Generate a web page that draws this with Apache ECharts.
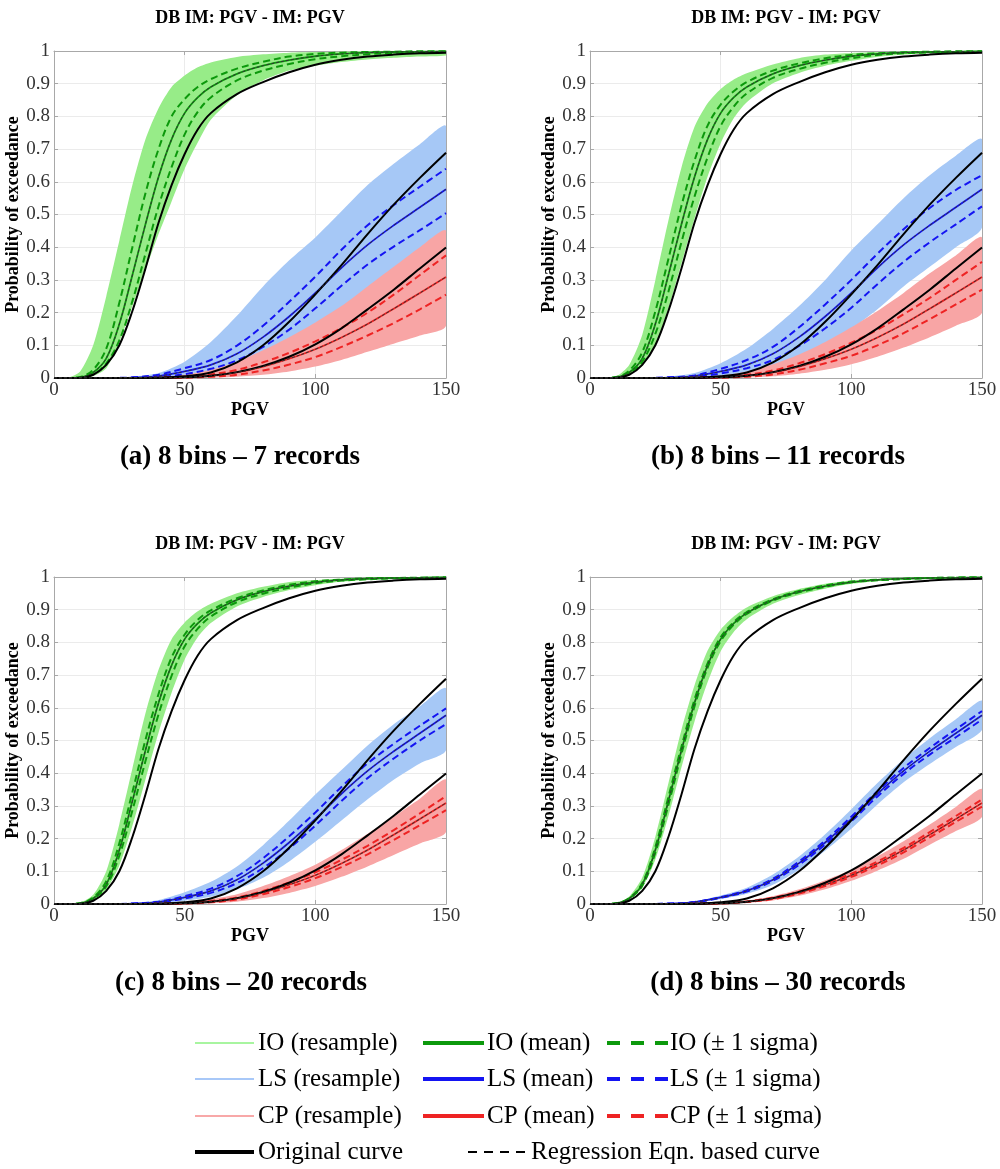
<!DOCTYPE html>
<html>
<head>
<meta charset="utf-8">
<script src="https://cdn.jsdelivr.net/npm/echarts@6/dist/echarts.min.js"></script>
<style>
  html, body { margin: 0; padding: 0; background: #fff; }
  #chart { width: 1000px; height: 1169px; }
</style>
</head>
<body>
<div id="chart"></div>
<script>
// ---- PGV sample points -------------------------------------------------
const PGV_IO = [0, 5, 10, 15, 20, 25, 30, 35, 40, 45, 50, 55, 60, 70, 80, 90, 100, 110, 120, 130, 140, 150];
const PGV_LC = [0, 20, 30, 40, 50, 60, 70, 80, 90, 100, 110, 120, 130, 140, 150];

// ---- original fragility curves (same in every panel) --------------------
const ORIG_IO = [0, 0, 0.001, 0.01, 0.04, 0.1, 0.205, 0.335, 0.475, 0.59, 0.685, 0.76, 0.81, 0.868, 0.905, 0.935, 0.958, 0.973, 0.983, 0.989, 0.993, 0.995];
const ORIG_LS = [0, 0, 0, 0.001, 0.005, 0.017, 0.048, 0.1, 0.172, 0.256, 0.345, 0.44, 0.53, 0.612, 0.689];
const ORIG_CP = [0, 0, 0, 0, 0.002, 0.007, 0.018, 0.037, 0.065, 0.103, 0.152, 0.21, 0.27, 0.335, 0.399];

// ---- resampled mean curves ---------------------------------------------
const MEAN_IO = [0, 0, 0.002, 0.017, 0.06, 0.165, 0.315, 0.47, 0.615, 0.73, 0.81, 0.858, 0.89, 0.93, 0.955, 0.972, 0.984, 0.991, 0.995, 0.997, 0.998, 0.999];
const MEAN_LS = [0, 0, 0.001, 0.006, 0.02, 0.04, 0.074, 0.125, 0.188, 0.26, 0.337, 0.407, 0.467, 0.522, 0.577];
const MEAN_CP = [0, 0, 0, 0.0005, 0.002, 0.007, 0.017, 0.035, 0.059, 0.088, 0.124, 0.165, 0.212, 0.26, 0.309];

// ---- regression-equation curves ------------------------------------------
const REG_IO = [0, 0, 0.002, 0.017, 0.06, 0.165, 0.315, 0.47, 0.615, 0.73, 0.81, 0.858, 0.89, 0.93, 0.955, 0.972, 0.984, 0.991, 0.995, 0.997, 0.998, 0.999];
const REG_LS = [0, 0, 0.001, 0.006, 0.02, 0.04, 0.074, 0.125, 0.188, 0.26, 0.337, 0.407, 0.467, 0.522, 0.577];
const REG_CP = [0, 0, 0, 0.0005, 0.002, 0.007, 0.017, 0.035, 0.059, 0.088, 0.124, 0.165, 0.212, 0.26, 0.309];

// ---- (a) 7 records --------------------------------------------------------
const A_IO_BAND_HI = [0, 0, 0.02, 0.1, 0.25, 0.42, 0.59, 0.73, 0.825, 0.89, 0.925, 0.95, 0.965, 0.982, 0.99, 0.995, 0.997, 0.998, 0.999, 0.999, 1, 1];
const A_IO_BAND_LO = [0, 0, 0, 0.006, 0.03, 0.11, 0.22, 0.33, 0.44, 0.54, 0.64, 0.72, 0.79, 0.865, 0.91, 0.94, 0.955, 0.966, 0.974, 0.979, 0.983, 0.986];
const A_IO_SIG_HI = [0, 0, 0.003, 0.025, 0.09, 0.23, 0.4, 0.565, 0.7, 0.8, 0.853, 0.89, 0.914, 0.946, 0.967, 0.983, 0.991, 0.995, 0.997, 0.998, 0.999, 0.999];
const A_IO_SIG_LO = [0, 0, 0.0015, 0.011, 0.045, 0.115, 0.235, 0.38, 0.525, 0.645, 0.745, 0.814, 0.858, 0.91, 0.94, 0.96, 0.975, 0.984, 0.99, 0.994, 0.996, 0.997];
const A_LS_BAND_HI = [0, 0, 0.004, 0.015, 0.05, 0.11, 0.19, 0.28, 0.36, 0.43, 0.51, 0.59, 0.655, 0.715, 0.77];
const A_LS_BAND_LO = [0, 0, 0, 0.0005, 0.003, 0.008, 0.02, 0.04, 0.07, 0.11, 0.16, 0.22, 0.29, 0.36, 0.43];
const A_LS_SIG_HI = [0, 0, 0.002, 0.01, 0.03, 0.055, 0.099, 0.16, 0.233, 0.31, 0.392, 0.467, 0.529, 0.585, 0.64];
const A_LS_SIG_LO = [0, 0, 0.0005, 0.003, 0.012, 0.028, 0.054, 0.095, 0.148, 0.213, 0.282, 0.347, 0.402, 0.452, 0.504];
const A_CP_BAND_HI = [0, 0, 0, 0.003, 0.01, 0.025, 0.05, 0.085, 0.125, 0.17, 0.22, 0.28, 0.34, 0.4, 0.45];
const A_CP_BAND_LO = [0, 0, 0, 0, 0, 0.001, 0.004, 0.01, 0.02, 0.035, 0.055, 0.08, 0.105, 0.13, 0.16];
const A_CP_SIG_HI = [0, 0, 0, 0.001, 0.004, 0.011, 0.025, 0.048, 0.077, 0.112, 0.153, 0.2, 0.255, 0.315, 0.375];
const A_CP_SIG_LO = [0, 0, 0, 0, 0.001, 0.004, 0.01, 0.023, 0.041, 0.064, 0.095, 0.13, 0.168, 0.21, 0.255];

// ---- (b) 11 records -------------------------------------------------------
const B_IO_BAND_HI = [0, 0, 0.005, 0.04, 0.132, 0.299, 0.482, 0.644, 0.768, 0.84, 0.884, 0.913, 0.932, 0.959, 0.978, 0.989, 0.994, 0.997, 0.998, 0.999, 0.999, 1];
const B_IO_BAND_LO = [0, 0, 0.0013, 0.0104, 0.038, 0.101, 0.212, 0.35, 0.488, 0.616, 0.718, 0.794, 0.843, 0.901, 0.933, 0.955, 0.97, 0.982, 0.989, 0.993, 0.995, 0.997];
const B_IO_SIG_HI = [0, 0, 0.0028, 0.022, 0.079, 0.204, 0.364, 0.527, 0.665, 0.772, 0.836, 0.877, 0.905, 0.94, 0.962, 0.978, 0.988, 0.993, 0.996, 0.998, 0.999, 0.999];
const B_IO_SIG_LO = [0, 0, 0.0017, 0.0138, 0.05, 0.135, 0.264, 0.416, 0.555, 0.675, 0.771, 0.83, 0.87, 0.918, 0.945, 0.964, 0.978, 0.988, 0.993, 0.996, 0.997, 0.998];
const B_LS_BAND_HI = [0, 0, 0.004, 0.015, 0.045, 0.09, 0.15, 0.22, 0.3, 0.39, 0.47, 0.55, 0.62, 0.68, 0.73];
const B_LS_BAND_LO = [0, 0, 0, 0.001, 0.006, 0.015, 0.03, 0.06, 0.1, 0.15, 0.21, 0.28, 0.34, 0.4, 0.46];
const B_LS_SIG_HI = [0, 0, 0.002, 0.008, 0.028, 0.055, 0.095, 0.155, 0.225, 0.3, 0.38, 0.455, 0.52, 0.575, 0.62];
const B_LS_SIG_LO = [0, 0, 0.0005, 0.004, 0.014, 0.03, 0.055, 0.098, 0.152, 0.215, 0.287, 0.355, 0.415, 0.47, 0.525];
const B_CP_BAND_HI = [0, 0, 0, 0.002, 0.007, 0.02, 0.042, 0.072, 0.11, 0.155, 0.205, 0.26, 0.32, 0.375, 0.43];
const B_CP_BAND_LO = [0, 0, 0, 0, 0, 0.001, 0.005, 0.013, 0.025, 0.042, 0.065, 0.093, 0.125, 0.16, 0.2];
const B_CP_SIG_HI = [0, 0, 0, 0.001, 0.003, 0.01, 0.023, 0.045, 0.073, 0.108, 0.148, 0.195, 0.245, 0.3, 0.355];
const B_CP_SIG_LO = [0, 0, 0, 0, 0.001, 0.004, 0.011, 0.025, 0.045, 0.068, 0.1, 0.137, 0.18, 0.225, 0.27];

// ---- (c) 20 records -------------------------------------------------------
const C_IO_BAND_HI = [0, 0, 0.0037, 0.028, 0.1, 0.244, 0.414, 0.583, 0.716, 0.81, 0.861, 0.895, 0.918, 0.95, 0.97, 0.985, 0.991, 0.995, 0.997, 0.998, 0.999, 0.999];
const C_IO_BAND_LO = [0, 0, 0.0014, 0.012, 0.044, 0.118, 0.239, 0.381, 0.524, 0.646, 0.748, 0.816, 0.859, 0.91, 0.939, 0.96, 0.975, 0.986, 0.991, 0.995, 0.997, 0.998];
const C_IO_SIG_HI = [0, 0, 0.0025, 0.02, 0.07, 0.186, 0.342, 0.502, 0.642, 0.754, 0.824, 0.869, 0.898, 0.935, 0.959, 0.976, 0.987, 0.992, 0.996, 0.997, 0.998, 0.999];
const C_IO_SIG_LO = [0, 0, 0.0018, 0.015, 0.054, 0.148, 0.286, 0.437, 0.58, 0.698, 0.788, 0.842, 0.879, 0.923, 0.949, 0.967, 0.981, 0.989, 0.993, 0.996, 0.997, 0.998];
const C_LS_BAND_HI = [0, 0, 0.003, 0.012, 0.036, 0.068, 0.115, 0.18, 0.255, 0.335, 0.41, 0.485, 0.55, 0.605, 0.66];
const C_LS_BAND_LO = [0, 0, 0, 0.002, 0.01, 0.022, 0.045, 0.08, 0.13, 0.19, 0.255, 0.32, 0.38, 0.43, 0.47];
const C_LS_SIG_HI = [0, 0, 0.0015, 0.007, 0.024, 0.047, 0.085, 0.14, 0.207, 0.28, 0.358, 0.43, 0.49, 0.545, 0.598];
const C_LS_SIG_LO = [0, 0, 0.0007, 0.005, 0.017, 0.034, 0.064, 0.11, 0.17, 0.24, 0.315, 0.385, 0.445, 0.5, 0.55];
const C_CP_BAND_HI = [0, 0, 0, 0.001, 0.005, 0.015, 0.03, 0.055, 0.085, 0.12, 0.165, 0.215, 0.267, 0.322, 0.38];
const C_CP_BAND_LO = [0, 0, 0, 0, 0, 0.002, 0.007, 0.018, 0.034, 0.055, 0.083, 0.115, 0.15, 0.185, 0.22];
const C_CP_SIG_HI = [0, 0, 0, 0.0007, 0.003, 0.009, 0.02, 0.04, 0.066, 0.097, 0.135, 0.178, 0.226, 0.277, 0.33];
const C_CP_SIG_LO = [0, 0, 0, 0.0003, 0.0015, 0.005, 0.014, 0.03, 0.052, 0.079, 0.113, 0.152, 0.196, 0.241, 0.287];

// ---- (d) 30 records -------------------------------------------------------
const D_IO_BAND_HI = [0, 0, 0.0029, 0.023, 0.081, 0.206, 0.369, 0.533, 0.669, 0.775, 0.839, 0.879, 0.907, 0.941, 0.963, 0.979, 0.989, 0.994, 0.996, 0.998, 0.999, 0.999];
const D_IO_BAND_LO = [0, 0, 0.0017, 0.0137, 0.05, 0.136, 0.268, 0.418, 0.558, 0.678, 0.773, 0.832, 0.871, 0.918, 0.945, 0.964, 0.979, 0.988, 0.993, 0.996, 0.997, 0.998];
const D_IO_SIG_HI = [0, 0, 0.0022, 0.018, 0.064, 0.174, 0.327, 0.481, 0.625, 0.736, 0.816, 0.862, 0.893, 0.932, 0.957, 0.974, 0.986, 0.992, 0.995, 0.997, 0.998, 0.999];
const D_IO_SIG_LO = [0, 0, 0.0018, 0.016, 0.056, 0.157, 0.303, 0.459, 0.605, 0.723, 0.804, 0.854, 0.887, 0.928, 0.953, 0.97, 0.984, 0.99, 0.994, 0.997, 0.998, 0.999];
const D_LS_BAND_HI = [0, 0, 0.0015, 0.008, 0.026, 0.05, 0.09, 0.145, 0.213, 0.29, 0.37, 0.443, 0.507, 0.565, 0.622];
const D_LS_BAND_LO = [0, 0, 0.0005, 0.004, 0.015, 0.031, 0.059, 0.105, 0.163, 0.23, 0.304, 0.372, 0.428, 0.48, 0.532];
const D_LS_SIG_HI = [0, 0, 0.0012, 0.006, 0.021, 0.042, 0.077, 0.13, 0.194, 0.267, 0.345, 0.416, 0.477, 0.534, 0.59];
const D_LS_SIG_LO = [0, 0, 0.0008, 0.005, 0.019, 0.038, 0.071, 0.12, 0.182, 0.253, 0.329, 0.398, 0.457, 0.51, 0.564];
const D_CP_BAND_HI = [0, 0, 0, 0.001, 0.004, 0.011, 0.024, 0.045, 0.073, 0.105, 0.146, 0.192, 0.243, 0.297, 0.352];
const D_CP_BAND_LO = [0, 0, 0, 0, 0.001, 0.004, 0.011, 0.025, 0.045, 0.071, 0.102, 0.138, 0.181, 0.223, 0.266];
const D_CP_SIG_HI = [0, 0, 0, 0.0006, 0.0025, 0.008, 0.019, 0.038, 0.063, 0.093, 0.13, 0.172, 0.22, 0.269, 0.32];
const D_CP_SIG_LO = [0, 0, 0, 0.0004, 0.0015, 0.006, 0.015, 0.032, 0.055, 0.083, 0.118, 0.158, 0.204, 0.251, 0.298];

// ---- text --------------------------------------------------------------
const PANEL_TITLE = 'DB IM: PGV - IM: PGV';
const X_NAME = 'PGV';
const Y_NAME = 'Probability of exceedance';
const CAPTIONS = ['(a) 8 bins \u2013 7 records', '(b) 8 bins \u2013 11 records', '(c) 8 bins \u2013 20 records', '(d) 8 bins \u2013 30 records'];

// ---- panel wiring --------------------------------------------------------
const PANELS = [
  { io: [A_IO_BAND_HI, A_IO_BAND_LO, A_IO_SIG_HI, A_IO_SIG_LO], ls: [A_LS_BAND_HI, A_LS_BAND_LO, A_LS_SIG_HI, A_LS_SIG_LO], cp: [A_CP_BAND_HI, A_CP_BAND_LO, A_CP_SIG_HI, A_CP_SIG_LO] },
  { io: [B_IO_BAND_HI, B_IO_BAND_LO, B_IO_SIG_HI, B_IO_SIG_LO], ls: [B_LS_BAND_HI, B_LS_BAND_LO, B_LS_SIG_HI, B_LS_SIG_LO], cp: [B_CP_BAND_HI, B_CP_BAND_LO, B_CP_SIG_HI, B_CP_SIG_LO] },
  { io: [C_IO_BAND_HI, C_IO_BAND_LO, C_IO_SIG_HI, C_IO_SIG_LO], ls: [C_LS_BAND_HI, C_LS_BAND_LO, C_LS_SIG_HI, C_LS_SIG_LO], cp: [C_CP_BAND_HI, C_CP_BAND_LO, C_CP_SIG_HI, C_CP_SIG_LO] },
  { io: [D_IO_BAND_HI, D_IO_BAND_LO, D_IO_SIG_HI, D_IO_SIG_LO], ls: [D_LS_BAND_HI, D_LS_BAND_LO, D_LS_SIG_HI, D_LS_SIG_LO], cp: [D_CP_BAND_HI, D_CP_BAND_LO, D_CP_SIG_HI, D_CP_SIG_LO] }
];

// ---- layout & style ------------------------------------------------------
const FONT = "'Liberation Serif', 'Times New Roman', serif";
const GRIDS = [
  { left: 54, top: 51, width: 392, height: 327 },
  { left: 590, top: 51, width: 392, height: 327 },
  { left: 54, top: 577, width: 392, height: 327 },
  { left: 590, top: 577, width: 392, height: 327 }
];
const TITLE_POS = [[250, 18], [786, 18], [250, 544], [786, 544]];
const CAPTION_POS = [[240, 457], [778, 457], [241, 983], [778, 983]];
const AXIS_COLOR = '#a8a8a8';
const COLORS = {
  io: { band: '#97ec88', line: '#0c990c' },
  ls: { band: '#a6c8f6', line: '#1414f2' },
  cp: { band: '#f8a5a5', line: '#ee2323' }
};

function pairs(xs, ys) { return xs.map((x, i) => [x, ys[i]]); }

// Filled envelope between an upper and a lower curve, smoothed and kept inside the plot box.
function bandSeries(gi, xs, hi, lo, color) {
  return {
    type: 'custom', coordinateSystem: 'cartesian2d',
    xAxisIndex: gi * 2, yAxisIndex: gi * 2,
    silent: true, clip: true, z: 1,
    data: [[0, 0]],
    renderItem: (params, api) => {
      const cs = params.coordSys;
      const pts = [];
      for (let i = 0; i < xs.length; i++) pts.push(api.coord([xs[i], hi[i]]));
      for (let i = xs.length - 1; i >= 0; i--) pts.push(api.coord([xs[i], lo[i]]));
      return {
        type: 'polygon',
        shape: { points: pts, smooth: 0.25, smoothConstraint: [[cs.x, cs.y], [cs.x + cs.width, cs.y + cs.height]] },
        style: { fill: color, stroke: null }
      };
    }
  };
}

function lineSeries(gi, xs, ys, color, width, dash, z) {
  return {
    type: 'line', xAxisIndex: gi * 2, yAxisIndex: gi * 2,
    data: pairs(xs, ys), showSymbol: false, symbol: 'none',
    smooth: 0.35, silent: true, z: z, clip: true,
    lineStyle: { color: color, width: width, type: dash || 'solid', cap: 'butt' }
  };
}

const option = {
  animation: false,
  backgroundColor: '#ffffff',
  grid: GRIDS.map(g => Object.assign({ containLabel: false }, g)),
  xAxis: [], yAxis: [], series: [], graphic: []
};

GRIDS.forEach((g, gi) => {
  const tick = { show: true, inside: true, length: 4, lineStyle: { color: AXIS_COLOR } };
  const line = { show: true, onZero: false, lineStyle: { color: AXIS_COLOR, width: 1 } };
  option.xAxis.push({
    gridIndex: gi, type: 'value', min: 0, max: 150, interval: 50, position: 'bottom',
    name: X_NAME, nameLocation: 'middle', nameGap: 14,
    nameTextStyle: { fontFamily: FONT, fontWeight: 'bold', fontSize: 18, color: '#000' },
    axisLine: line, axisTick: tick,
    axisLabel: { fontFamily: FONT, fontSize: 19, color: '#333', margin: 3 },
    splitLine: { show: true, lineStyle: { color: '#ebebeb', width: 1 } }
  });
  option.xAxis.push({
    gridIndex: gi, type: 'value', min: 0, max: 150, interval: 50, position: 'top',
    axisLine: line, axisTick: tick, axisLabel: { show: false }, splitLine: { show: false }
  });
  option.yAxis.push({
    gridIndex: gi, type: 'value', min: 0, max: 1, interval: 0.1, position: 'left',
    name: Y_NAME, nameLocation: 'middle', nameGap: 24, nameRotate: 90,
    nameTextStyle: { fontFamily: FONT, fontWeight: 'bold', fontSize: 18, color: '#000' },
    axisLine: line, axisTick: tick,
    axisLabel: { fontFamily: FONT, fontSize: 19, color: '#333', margin: 4 },
    splitLine: { show: true, lineStyle: { color: '#ebebeb', width: 1 } }
  });
  option.yAxis.push({
    gridIndex: gi, type: 'value', min: 0, max: 1, interval: 0.1, position: 'right',
    axisLine: line, axisTick: tick, axisLabel: { show: false }, splitLine: { show: false }
  });

  const p = PANELS[gi];
  // resample envelopes
  option.series.push(bandSeries(gi, PGV_IO, p.io[0], p.io[1], COLORS.io.band));
  option.series.push(bandSeries(gi, PGV_LC, p.ls[0], p.ls[1], COLORS.ls.band));
  option.series.push(bandSeries(gi, PGV_LC, p.cp[0], p.cp[1], COLORS.cp.band));
  // +/- 1 sigma and mean
  const groups = [['io', PGV_IO, MEAN_IO], ['ls', PGV_LC, MEAN_LS], ['cp', PGV_LC, MEAN_CP]];
  groups.forEach(([key, xs, mean]) => {
    const c = COLORS[key].line;
    option.series.push(lineSeries(gi, xs, p[key][2], c, 2, [7, 4], 3));
    option.series.push(lineSeries(gi, xs, p[key][3], c, 2, [7, 4], 3));
    option.series.push(lineSeries(gi, xs, mean, c, 1.8, null, 3));
  });
  // original curves
  option.series.push(lineSeries(gi, PGV_IO, ORIG_IO, '#000', 2, null, 4));
  option.series.push(lineSeries(gi, PGV_LC, ORIG_LS, '#000', 2, null, 4));
  option.series.push(lineSeries(gi, PGV_LC, ORIG_CP, '#000', 2, null, 4));
  // regression-equation curves
  option.series.push(lineSeries(gi, PGV_IO, REG_IO, '#333', 1, [3, 2], 5));
  option.series.push(lineSeries(gi, PGV_LC, REG_LS, '#333', 1, [3, 2], 5));
  option.series.push(lineSeries(gi, PGV_LC, REG_CP, '#333', 1, [3, 2], 5));

  option.graphic.push({
    type: 'text', x: TITLE_POS[gi][0], y: TITLE_POS[gi][1], silent: true,
    style: { text: PANEL_TITLE, fill: '#000', font: "bold 18px " + FONT, align: 'center', verticalAlign: 'middle', textAlign: 'center', textVerticalAlign: 'middle' }
  });
  option.graphic.push({
    type: 'text', x: CAPTION_POS[gi][0], y: CAPTION_POS[gi][1], silent: true,
    style: { text: CAPTIONS[gi], fill: '#000', font: "bold 27px " + FONT, align: 'center', verticalAlign: 'middle', textAlign: 'center', textVerticalAlign: 'middle' }
  });
});

// ---- legend --------------------------------------------------------------
const LEGEND_ROWS = [1043, 1079, 1116, 1152];
const LEGEND_ITEMS = [
  { row: 0, x1: 195, x2: 254, tx: 258, color: '#a8f5a0', w: 2, dash: null, text: 'IO (resample)' },
  { row: 0, x1: 423, x2: 484, tx: 487, color: '#0c990c', w: 4, dash: null, text: 'IO (mean)' },
  { row: 0, x1: 607, x2: 668, tx: 670, color: '#0c990c', w: 4, dash: [13, 11], text: 'IO (\u00b1 1 sigma)' },
  { row: 1, x1: 195, x2: 254, tx: 258, color: '#a8c8f8', w: 2, dash: null, text: 'LS (resample)' },
  { row: 1, x1: 423, x2: 484, tx: 487, color: '#1414f2', w: 4, dash: null, text: 'LS (mean)' },
  { row: 1, x1: 607, x2: 668, tx: 670, color: '#1414f2', w: 4, dash: [13, 11], text: 'LS (\u00b1 1 sigma)' },
  { row: 2, x1: 195, x2: 254, tx: 258, color: '#f8a8a8', w: 2, dash: null, text: 'CP (resample)' },
  { row: 2, x1: 423, x2: 484, tx: 487, color: '#ee2323', w: 4, dash: null, text: 'CP (mean)' },
  { row: 2, x1: 607, x2: 668, tx: 670, color: '#ee2323', w: 4, dash: [13, 11], text: 'CP (\u00b1 1 sigma)' },
  { row: 3, x1: 195, x2: 254, tx: 258, color: '#000000', w: 4, dash: null, text: 'Original curve' },
  { row: 3, x1: 468, x2: 525, tx: 531, color: '#000000', w: 2, dash: [9, 7], text: 'Regression Eqn. based curve' }
];
LEGEND_ITEMS.forEach(it => {
  const y = LEGEND_ROWS[it.row];
  option.graphic.push({
    type: 'line', silent: true,
    shape: { x1: it.x1, y1: y, x2: it.x2, y2: y },
    style: { stroke: it.color, lineWidth: it.w, lineDash: it.dash || null }
  });
  option.graphic.push({
    type: 'text', x: it.tx, y: y, silent: true,
    style: { text: it.text, fill: '#000', font: "25px " + FONT, align: 'left', verticalAlign: 'middle', textAlign: 'left', textVerticalAlign: 'middle' }
  });
});

const chart = echarts.init(document.getElementById('chart'), null, { renderer: 'canvas' });
chart.setOption(option);
</script>
</body>
</html>
